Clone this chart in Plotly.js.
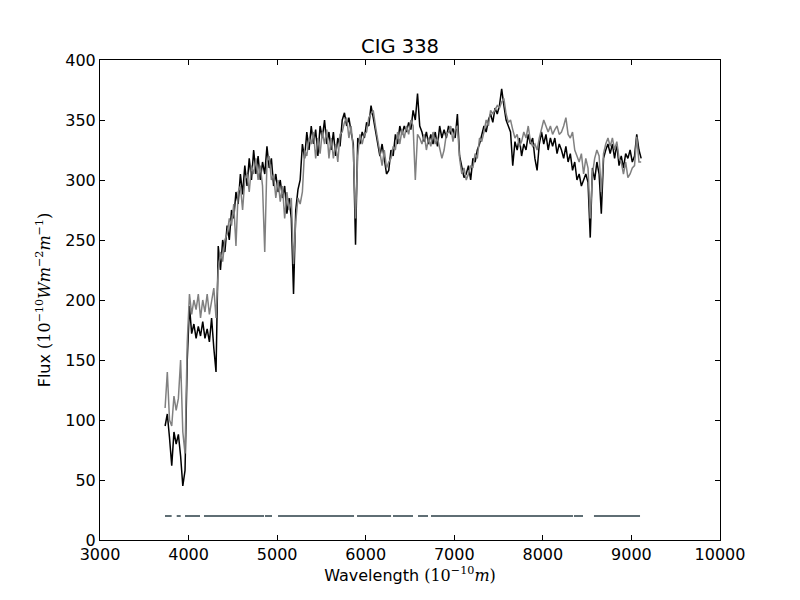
<!DOCTYPE html>
<html><head><meta charset="utf-8">
<script src="https://cdn.plot.ly/plotly-3.0.1.min.js"></script>
<style>body{margin:0;background:#fff}#c{width:800px;height:600px}</style>
</head><body><div id="c"></div>
<script>
const wavelength = [3735,3760,3785,3810,3835,3860,3885,3910,3935,3960,3985,4010,4035,4060,4085,4110,4135,4160,4185,4210,4235,4260,4285,4310,4335,4360,4385,4410,4435,4460,4485,4510,4535,4560,4585,4610,4635,4660,4685,4710,4735,4760,4785,4810,4835,4860,4885,4910,4935,4960,4985,5010,5035,5060,5085,5110,5135,5160,5185,5210,5235,5260,5285,5310,5335,5360,5385,5410,5435,5460,5485,5510,5535,5560,5585,5610,5635,5660,5685,5710,5735,5760,5785,5810,5835,5860,5885,5910,5935,5960,5985,6010,6035,6060,6085,6110,6135,6160,6185,6210,6235,6260,6285,6310,6335,6360,6385,6410,6435,6460,6485,6510,6535,6560,6585,6610,6635,6660,6685,6710,6735,6760,6785,6810,6835,6860,6885,6910,6935,6960,6985,7010,7035,7060,7085,7110,7135,7160,7185,7210,7235,7260,7285,7310,7335,7360,7385,7410,7435,7460,7485,7510,7535,7560,7585,7610,7635,7660,7685,7710,7735,7760,7785,7810,7835,7860,7885,7910,7935,7960,7985,8010,8035,8060,8085,8110,8135,8160,8185,8210,8235,8260,8285,8310,8335,8360,8385,8410,8435,8460,8485,8510,8535,8560,8585,8610,8635,8660,8685,8710,8735,8760,8785,8810,8835,8860,8885,8910,8935,8960,8985,9010,9035,9060,9085,9110];

const fluxObserved = [95,105,85,62,90,80,88,70,45,58,150,195,172,180,168,178,170,182,168,176,165,185,160,140,245,225,250,240,262,250,275,268,290,280,305,288,312,295,318,300,325,305,320,300,315,305,328,310,318,295,305,290,300,285,295,272,285,268,205,275,292,300,330,318,340,325,345,330,342,320,345,335,350,330,340,325,340,320,335,328,350,356,345,352,340,330,246,335,330,340,335,348,345,362,352,340,330,320,330,315,305,308,325,320,338,330,345,338,345,340,348,342,358,350,372,345,340,332,340,330,338,330,340,328,345,335,342,335,345,338,343,335,355,320,310,302,305,312,300,318,315,325,330,338,345,340,350,355,348,360,355,362,376,362,350,345,340,312,332,325,335,320,330,325,338,330,335,318,308,330,340,330,338,325,335,328,335,322,330,325,318,328,315,322,308,315,300,305,295,300,305,298,252,310,300,315,305,272,318,325,330,322,330,318,330,312,320,310,322,318,325,315,320,338,325,318];

const fluxModel = [110,140,100,95,120,108,118,150,90,72,165,205,188,200,192,205,185,200,190,205,188,200,210,185,225,240,232,250,255,268,262,280,245,290,295,275,300,305,290,312,305,318,300,312,295,240,315,320,300,305,285,300,282,295,268,290,275,285,230,265,285,280,290,325,320,335,330,340,318,335,322,340,330,342,318,335,318,330,315,338,340,348,352,335,345,325,268,320,338,330,338,340,352,355,358,345,335,325,312,325,310,315,318,328,325,340,330,342,335,345,338,350,345,300,338,335,330,338,325,335,328,340,330,335,325,318,325,338,340,345,332,342,345,318,305,310,300,305,312,310,322,318,335,332,340,350,345,358,355,358,362,360,365,368,355,348,350,342,335,338,328,332,340,335,345,332,328,330,325,335,343,350,345,340,345,338,342,345,338,340,345,352,338,335,340,325,320,315,322,305,318,310,268,305,318,325,320,290,322,330,335,328,335,325,332,318,315,305,315,302,305,310,312,336,315,315];

const maskStart = [3734,3866,3960,4174,4863,5010,5902,6308,6590,6737,6895,8351,8577];
const maskEnd   = [3809,3911,4129,4852,4942,5868,6286,6534,6703,6895,8340,8453,9097];
const maskLevel = 20;

const xTicks = [3000,4000,5000,6000,7000,8000,9000,10000];
const yTicks = [0,50,100,150,200,250,300,350,400];

const mx = [], my = [];
for (let i = 0; i < maskStart.length; i++) {
  mx.push(maskStart[i], maskEnd[i], null);
  my.push(maskLevel, maskLevel, null);
}

const traces = [
  {x: wavelength, y: fluxObserved, mode: 'lines', line: {color: '#000000', width: 1.5}, hoverinfo: 'skip'},
  {x: wavelength, y: fluxModel, mode: 'lines', line: {color: '#808080', width: 1.5}, hoverinfo: 'skip'},
  {x: mx, y: my, mode: 'lines', line: {color: '#5f6e74', width: 2}, connectgaps: false, hoverinfo: 'skip'}
];

const serif = "font-family:'DejaVu Serif'";
const axisBase = {
  showgrid: false, zeroline: false, showline: true, linecolor: '#000', linewidth: 1,
  mirror: 'allticks', ticks: 'inside', ticklen: 5, tickcolor: '#000', tickwidth: 1,
  tickfont: {family: 'DejaVu Sans', size: 16, color: '#000'}
};

const layout = {
  width: 800, height: 600,
  margin: {l: 100, r: 80, t: 60, b: 60},
  paper_bgcolor: '#fff', plot_bgcolor: '#fff',
  showlegend: false,
  font: {family: 'DejaVu Sans', color: '#000'},
  title: {text: 'CIG 338', x: 0.5, xanchor: 'center', y: 1 - 46/600, yanchor: 'middle',
          font: {family: 'DejaVu Sans', size: 19.5, color: '#000'}},
  xaxis: Object.assign({}, axisBase, {
    range: [3000, 10000], tickvals: xTicks, ticktext: xTicks.map(String),
    title: {text: "Wavelength <span style=\"" + serif + "\">(10<sup>−10</sup><i>m</i>)</span>",
            font: {family: 'DejaVu Sans', size: 16, color: '#000'}, standoff: 4}
  }),
  yaxis: Object.assign({}, axisBase, {
    range: [0, 400], tickvals: yTicks, ticktext: yTicks.map(String),
    title: {text: "Flux <span style=\"" + serif + "\">(10<sup>−10</sup><i>Wm</i><sup>−2</sup><i>m</i><sup>−1</sup>)</span>",
            font: {family: 'DejaVu Sans', size: 16, color: '#000'}, standoff: 10}
  })
};

Plotly.newPlot('c', traces, layout, {staticPlot: true, displayModeBar: false});
</script>
</body></html>
